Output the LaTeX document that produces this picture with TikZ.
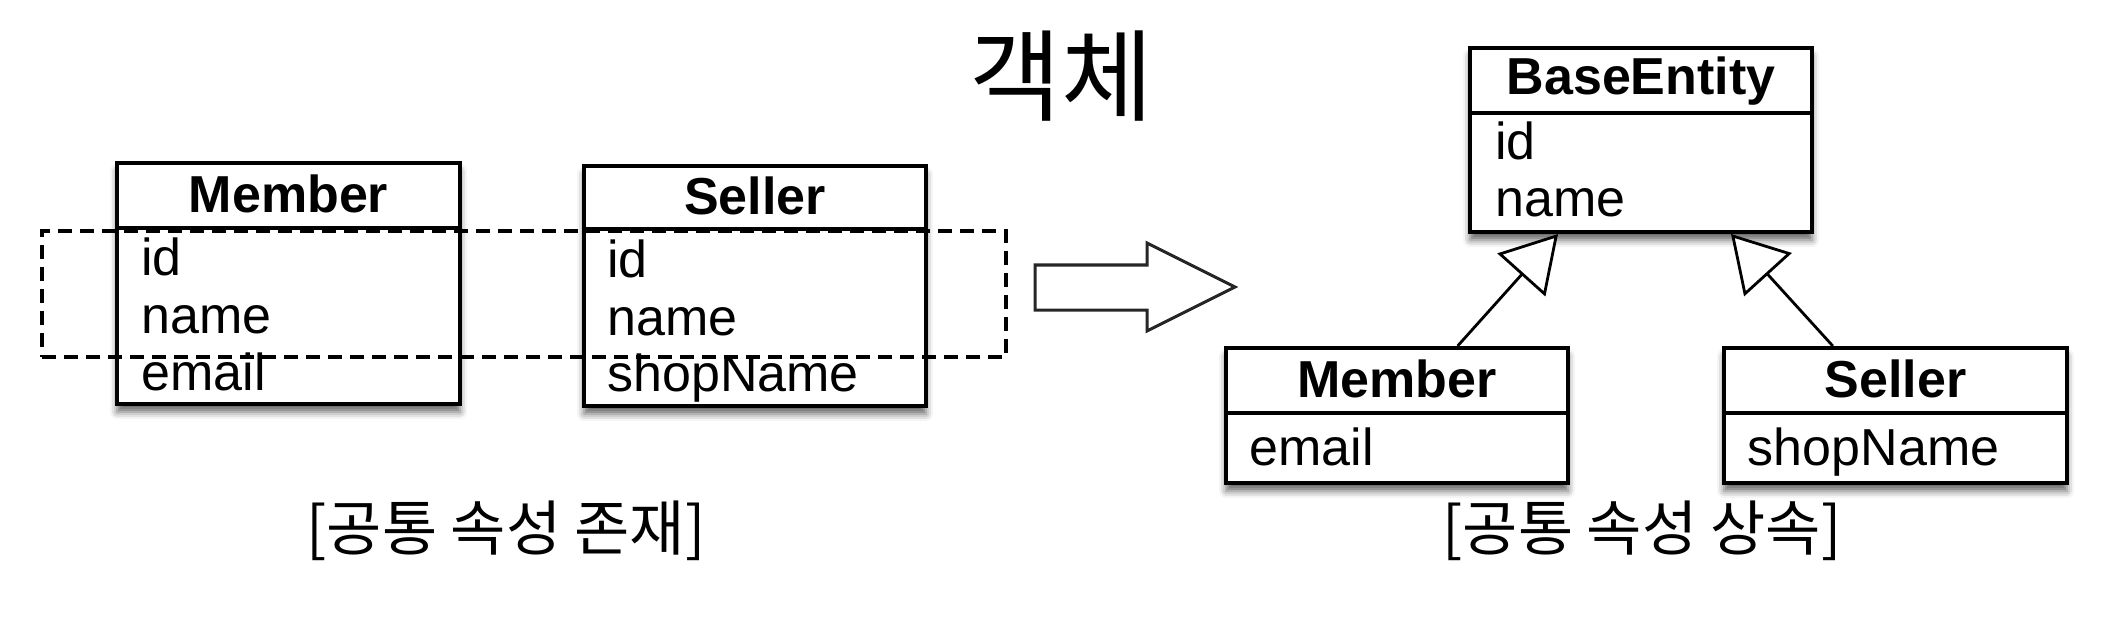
\documentclass[tikz,border=0pt]{standalone}
\usepackage{fontspec}
\setmainfont{Liberation Sans}
\newfontfamily\kr{Noto Sans CJK KR}
\usetikzlibrary{arrows.meta,calc,shadows.blur}
\begin{document}
\begin{tikzpicture}[x=0.5pt,y=-0.5pt,
  classbox/.style={draw, line width=2pt, fill=white, inner sep=0pt,
    blur shadow={shadow xshift=0pt, shadow yshift=-4pt, shadow blur radius=3.5pt, shadow opacity=60}},
  clstitle/.style={anchor=base, font=\fontsize{26}{30}\selectfont\bfseries, inner sep=0pt},
  attr/.style={anchor=base west, font=\fontsize{26}{30}\selectfont, inner sep=0pt},
  divider/.style={line width=2pt},
  commonbox/.style={draw, line width=1.9pt, dash pattern=on 7pt off 4pt, inner sep=0pt},
  bigarrow/.style={draw=black!85, line width=1.5pt, line join=miter},
  inherit/.style={line width=1.4pt, -{Triangle[open, length=27.5pt, width=32pt, fill=white]}},
  krlabel/.style={font=\kr\fontsize{30}{34}\selectfont, inner sep=0pt},
  krtitle/.style={font=\kr\fontsize{50}{56}\selectfont, inner sep=0pt}
]
\useasboundingbox (0,0) rectangle (2124,620);

% title
\node[krtitle] (ttl) at (1061,76) {객체};

% ---- left: Member
\node[classbox, minimum width=171.5pt, minimum height=120.5pt] (m1) at (288.5,283.5) {};
\draw[divider] ($(m1.north west)+(0,67)$) -- ($(m1.north east)+(0,67)$);
\node[clstitle] (m1t) at (288.5,213) {Member};
\node[attr] (m1a) at (141,276) {id};
\node[attr] (m1b) at (141,333) {name};
\node[attr] (m1c) at (141,390) {email};

% ---- left: Seller
\node[classbox, minimum width=171pt, minimum height=120pt] (s1) at (755,286) {};
\draw[divider] ($(s1.north west)+(0,65)$) -- ($(s1.north east)+(0,65)$);
\node[clstitle] (s1t) at (755,215) {Seller};
\node[attr] (s1a) at (607,278) {id};
\node[attr] (s1b) at (607,335) {name};
\node[attr] (s1c) at (607,391) {shopName};

% dashed common-attribute box
\node[commonbox, minimum width=482pt, minimum height=63pt] (common) at (524,294) {};

% big arrow
\draw[bigarrow] (1035,265) -- (1147,265) -- (1147,243) -- (1235,287) -- (1147,331) -- (1147,310) -- (1035,310) -- cycle;

% ---- right: BaseEntity
\node[classbox, minimum width=171pt, minimum height=92pt] (b) at (1641,140) {};
\draw[divider] ($(b.north west)+(0,67)$) -- ($(b.north east)+(0,67)$);
\node[clstitle] (bt) at (1641,95) {BaseEntity};
\node[attr] (ba) at (1495,160) {id};
\node[attr] (bb) at (1495,217) {name};

% ---- right: Member
\node[classbox, minimum width=171pt, minimum height=67.5pt] (m2) at (1397,415.5) {};
\draw[divider] ($(m2.north west)+(0,67)$) -- ($(m2.north east)+(0,67)$);
\node[clstitle] (m2t) at (1397,397) {Member};
\node[attr] (m2a) at (1249,465) {email};

% ---- right: Seller
\node[classbox, minimum width=171.5pt, minimum height=67.5pt] (s2) at (1895.5,415.5) {};
\draw[divider] ($(s2.north west)+(0,67)$) -- ($(s2.north east)+(0,67)$);
\node[clstitle] (s2t) at (1895.5,397) {Seller};
\node[attr] (s2a) at (1747.5,465) {shopName};

% inheritance
\draw[inherit] ($(m2.north)+(60.6,0)$) -- ($(b.south)+(-83,0)$);
\draw[inherit] ($(s2.north)+(-62.7,0)$) -- ($(b.south)+(90,0)$);

% captions
\node[krlabel] (lbl1) at (506,531) {[공통 속성 존재]};
\node[krlabel] (lbl2) at (1642,531) {[공통 속성 상속]};
\end{tikzpicture}
\end{document}
